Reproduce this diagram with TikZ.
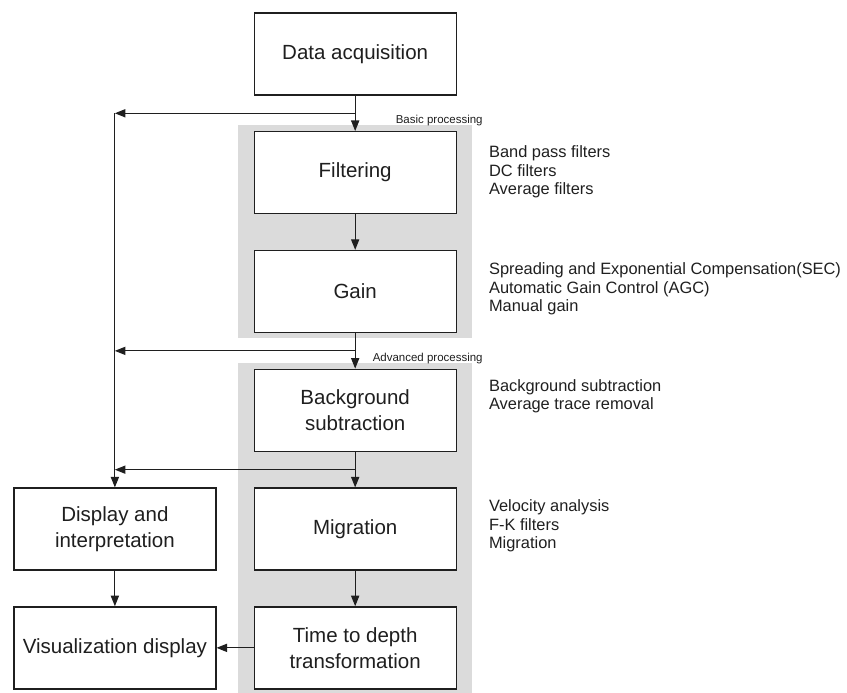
\documentclass[tikz,border=0pt]{standalone}
\usepackage{fontspec}
\setmainfont{Liberation Sans}
\usetikzlibrary{arrows.meta,calc,backgrounds}
\colorlet{ink}{black!88}
\colorlet{stage}{black!14}
\tikzset{
  % node options
  procbox/.style={rectangle,draw=ink,fill=white,line width=1.1pt,text=ink,
    minimum width=6.06cm,minimum height=2.46cm,inner sep=0pt,
    align=center,font=\fontsize{17.5}{22}\selectfont},
  note/.style={anchor=north west,align=left,inner sep=0pt,text=ink,
    font=\fontsize{14}{15.8}\selectfont},
  stagelabel/.style={anchor=base east,inner sep=0pt,text=ink,
    font=\fontsize{9.8}{11}\selectfont},
  % path options
  flow/.style={draw=ink,line width=0.9pt,-{Triangle[length=9pt,width=7pt]}},
  % matrix options
  row sep=1.065cm,
  column sep=1.11cm,
}

\begin{document}
\begin{tikzpicture}[x=0.03cm,y=-0.03cm]
    \useasboundingbox (0,0) rectangle (847,692);
    \matrix (chart) [matrix anchor=north west,inner sep=0pt] at (13,12) {
      & \node[procbox] (acq) {Data acquisition}; \\
      & \node[procbox] (filtering) {Filtering}; \\
      & \node[procbox] (gain) {Gain}; \\
      & \node[procbox] (background) {Background\\subtraction}; \\
      \node[procbox] (display) {Display and\\interpretation}; &
        \node[procbox] (migration) {Migration}; \\
      \node[procbox] (visual) {Visualization display}; &
        \node[procbox] (timedepth) {Time to depth\\transformation}; \\
    };
    % processing stages
    \begin{scope}[on background layer]
      \fill[stage] ($(filtering.north west)+(-16,-6)$) rectangle ($(gain.south east)+(15,5)$);
      \fill[stage] ($(background.north west)+(-16,-6)$) rectangle ($(timedepth.south east)+(15,12)$);
    \end{scope}
    \node[stagelabel] (basiclabel) at ($(filtering.north east)+(26,-7.5)$) {Basic processing};
    \node[stagelabel] (advlabel) at ($(background.north east)+(26,-7.5)$) {Advanced processing};
    % notes
    \node[note] (filternotes) at ($(filtering.north east)+(32,14.5)$)
      {Band pass filters\\DC filters\\Average filters};
    \node[note] (gainnotes) at ($(gain.north east)+(32,13)$)
      {Spreading and Exponential Compensation(SEC)\\Automatic Gain Control (AGC)\\Manual gain};
    \node[note] (bgnotes) at ($(background.north east)+(32,10.5)$)
      {Background subtraction\\Average trace removal};
    \node[note] (mignotes) at ($(migration.north east)+(32,12)$)
      {Velocity analysis\\F-K filters\\Migration};
    % taps to the display rail
    \coordinate (tap1) at ($(acq.south)!0.5!(filtering.north)$);
    \coordinate (tap2) at ($(gain.south)!0.5!(background.north)$);
    \coordinate (tap3) at ($(background.south)!0.5!(migration.north)$);
    \coordinate (railtop) at (display.north |- tap1);
    \draw[flow] (acq) -- (filtering);
    \draw[flow] (filtering) -- (gain);
    \draw[flow] (gain) -- (background);
    \draw[flow] (background) -- (migration);
    \draw[flow] (migration) -- (timedepth);
    \draw[flow] (tap1) -- (railtop);
    \draw[flow] (tap2) -- (display.north |- tap2);
    \draw[flow] (tap3) -- (display.north |- tap3);
    \draw[flow] (railtop) -- (display);
    \draw[flow] (display) -- (visual);
    \draw[flow] (timedepth) -- (visual);
\end{tikzpicture}
\end{document}
